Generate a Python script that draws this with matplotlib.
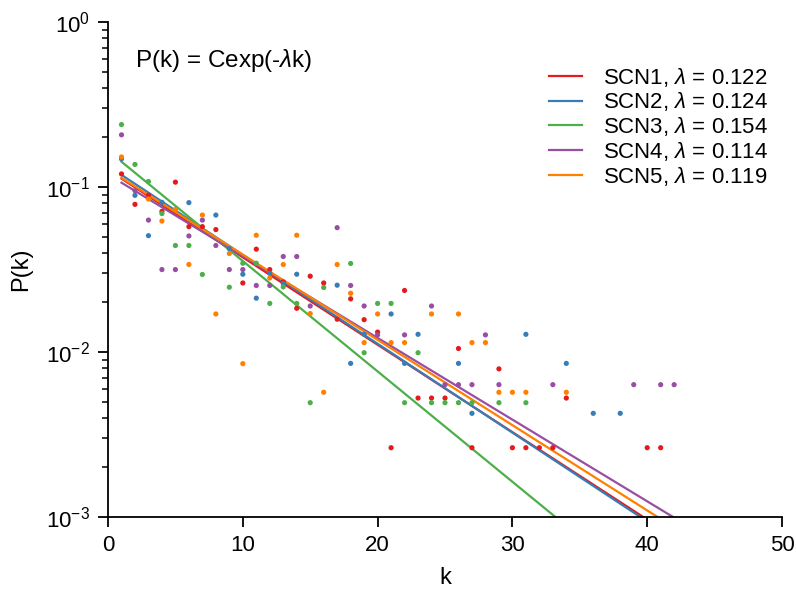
import numpy as np
import matplotlib
matplotlib.use("Agg")
import matplotlib.pyplot as plt

# ------------------------------------------------------------------
names = ["SCN1", "SCN2", "SCN3", "SCN4", "SCN5"]
lambdas = [0.122, 0.124, 0.154, 0.114, 0.119]
prefactors = [0.127, 0.134, 0.166, 0.119, 0.128]
colors = ["#e41a1c", "#377eb8", "#4daf4a", "#984ea3", "#ff7f00"]

k_scn1 = [1, 2, 3, 4, 5, 6, 7, 8, 10, 11, 12, 13, 14, 15, 16, 17, 18, 19, 20,
          21, 22, 23, 24, 25, 26, 27, 29, 30, 31, 32, 33, 34, 40, 41]
p_scn1 = [0.120, 0.0785, 0.089, 0.0712, 0.107, 0.0575, 0.0575, 0.0552, 0.0262,
          0.042, 0.0316, 0.0266, 0.0184, 0.0288, 0.0262, 0.0158, 0.021, 0.0157,
          0.0132, 0.00263, 0.0236, 0.00526, 0.00526, 0.00526, 0.0105, 0.00263,
          0.0079, 0.00263, 0.00263, 0.00263, 0.00263, 0.00526, 0.00263, 0.00263]

k_scn2 = [1, 2, 3, 4, 6, 8, 9, 10, 11, 12, 13, 14, 17, 18, 19, 21, 22, 23, 26,
          27, 31, 34, 36, 38]
p_scn2 = [0.148, 0.089, 0.0507, 0.0807, 0.0804, 0.0676, 0.0423, 0.0296, 0.0212,
          0.030, 0.026, 0.0296, 0.0254, 0.00853, 0.0128, 0.017, 0.00853, 0.0128,
          0.00853, 0.00425, 0.0128, 0.00853, 0.00425, 0.00425]

k_scn3 = [1, 2, 3, 4, 5, 6, 7, 9, 10, 11, 12, 13, 14, 15, 16, 18, 19, 20, 21,
          22, 23, 24, 25, 26, 27, 29, 31]
p_scn3 = [0.239, 0.137, 0.108, 0.069, 0.0442, 0.0442, 0.0295, 0.0247, 0.0345,
          0.0345, 0.0197, 0.0248, 0.0197, 0.00493, 0.0246, 0.0344, 0.0099,
          0.0197, 0.0197, 0.00493, 0.0099, 0.00493, 0.00493, 0.00493, 0.00493,
          0.00493, 0.00493]

k_scn4 = [1, 2, 3, 4, 5, 6, 7, 8, 9, 10, 11, 12, 13, 14, 15, 17, 18, 19, 20,
          22, 24, 25, 26, 27, 28, 29, 33, 39, 41, 42]
p_scn4 = [0.207, 0.095, 0.063, 0.0316, 0.0316, 0.0505, 0.063, 0.0442, 0.0316,
          0.0316, 0.0253, 0.0253, 0.0379, 0.0379, 0.019, 0.0567, 0.0253, 0.019,
          0.0127, 0.0127, 0.019, 0.00634, 0.00634, 0.00634, 0.0127, 0.00634,
          0.00634, 0.00634, 0.00634, 0.00634]

k_scn5 = [1, 3, 4, 5, 6, 7, 8, 9, 10, 11, 12, 13, 14, 15, 16, 17, 18, 19, 20,
          21, 22, 24, 26, 27, 28, 29, 30, 31, 34]
p_scn5 = [0.152, 0.0846, 0.0622, 0.073, 0.0339, 0.0676, 0.017, 0.0395, 0.0085,
          0.051, 0.0281, 0.0339, 0.051, 0.0171, 0.0057, 0.0339, 0.0227, 0.0114,
          0.017, 0.0114, 0.0114, 0.017, 0.017, 0.0114, 0.0114, 0.0057, 0.0057,
          0.0057, 0.0057]
# ------------------------------------------------------------------

ks = [k_scn1, k_scn2, k_scn3, k_scn4, k_scn5]
ps = [p_scn1, p_scn2, p_scn3, p_scn4, p_scn5]

plt.rcParams["font.family"] = ["Liberation Sans", "DejaVu Sans"]
plt.rcParams["mathtext.fontset"] = "custom"
plt.rcParams["mathtext.rm"] = "Liberation Sans"
plt.rcParams["mathtext.it"] = "Liberation Sans:italic"


def main():
    fig = plt.figure(figsize=(7.96, 5.94), dpi=100)
    ax = fig.add_axes([0.1357, 0.1296, 0.8467, 0.8334])

    k_fit = np.linspace(1, 50, 200)
    for i in range(len(names)):
        ax.scatter(ks[i], ps[i], s=14, color=colors[i], edgecolors="none",
                   zorder=3)
    for i in range(len(names)):
        ax.plot(k_fit, prefactors[i] * np.exp(-lambdas[i] * k_fit),
                color=colors[i], lw=1.6, zorder=2,
                label=f"{names[i]}, $\\lambda$ = {lambdas[i]:.3f}")

    ax.set_yscale("log")
    ax.set_xlim(0, 50)
    ax.set_ylim(1e-3, 1)
    ax.set_xticks([0, 10, 20, 30, 40, 50])
    ax.set_xlabel("k", fontsize=17, labelpad=8)
    ax.set_ylabel("P(k)", fontsize=17, labelpad=10)

    for s in ["top", "right"]:
        ax.spines[s].set_visible(False)
    for s in ["left", "bottom"]:
        ax.spines[s].set_linewidth(1.3)
    ax.tick_params(which="major", direction="out", length=7, width=1.3,
                   labelsize=16, pad=6)
    ax.tick_params(which="minor", direction="out", length=4, width=1.1)

    ax.text(0.04, 0.922, "P(k) = Cexp(-$\\lambda$k)", transform=ax.transAxes,
            fontsize=17.5, va="center", ha="left")

    ax.legend(loc="upper right", frameon=False, fontsize=16,
              handlelength=1.45, handletextpad=0.95, labelspacing=0.08,
              borderaxespad=0.0, bbox_to_anchor=(0.992, 0.93))

    fig.savefig("out.png", dpi=100)


if __name__ == "__main__":
    main()
